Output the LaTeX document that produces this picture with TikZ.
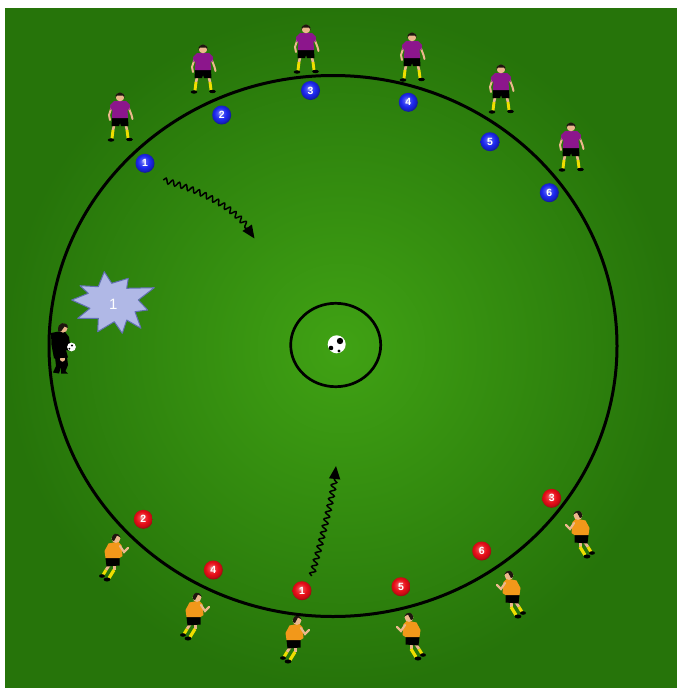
\documentclass[tikz,border=0pt]{standalone}
\usepackage{fontspec}
\setmainfont{Liberation Sans}
\usetikzlibrary{decorations.pathmorphing,arrows.meta}
\definecolor{skin}{RGB}{236,184,140}
\definecolor{shirtP}{RGB}{140,22,140}
\definecolor{shirtO}{RGB}{242,152,26}
\definecolor{sockY}{RGB}{240,222,0}
\definecolor{hairC}{RGB}{30,22,14}
\definecolor{burstF}{RGB}{176,184,230}
\definecolor{burstE}{RGB}{96,112,176}
\definecolor{blueD}{RGB}{28,40,240}
\definecolor{redD}{RGB}{232,14,24}
\definecolor{fieldIn}{RGB}{64,162,20}
\definecolor{fieldOut}{RGB}{38,116,10}
\pgfdeclareradialshading{discB}{\pgfpoint{-5bp}{6bp}}{color(0bp)=(blueD!30!white); color(7bp)=(blueD!80!white); color(16bp)=(blueD); color(23bp)=(blueD!80!black); color(25bp)=(blueD!65!black); color(50bp)=(blueD!65!black)}
\pgfdeclareradialshading{discR}{\pgfpoint{-5bp}{6bp}}{color(0bp)=(redD!30!white); color(7bp)=(redD!80!white); color(16bp)=(redD); color(23bp)=(redD!85!black); color(25bp)=(redD!70!black); color(50bp)=(redD!70!black)}
\tikzset{
  disc/.style={circle, minimum size=19pt, inner sep=0pt, text=white,
    font=\bfseries\fontsize{10.5}{10.5}\selectfont},
  bluedisc/.style={disc, shading=discB},
  reddisc/.style={disc, shading=discR},
  ring/.style={draw=black, line width=3pt},
  run/.style={decorate, line width=1.5pt, draw=black,
    decoration={snake, amplitude=2.6pt, segment length=7pt, post length=11pt},
    -{Triangle[length=13pt,width=11pt]}},
  standing/.pic={
    \draw[skin, line width=2.6pt] (-6,8) -- (-7,12) (6,8) -- (7,12);
    \draw[sockY, line width=2.9pt] (-7,12) -- (-8,20.5) (7,12) -- (8,20);
    \fill[black] (-9,22) ellipse (3.3 and 1.7) (9.5,21.5) ellipse (3.3 and 1.7);
    \fill[black] (-8,0) -- (8,0) -- (8.5,8) -- (1,8) -- (0,5) -- (-1,8) -- (-8.5,8) -- cycle;
    \draw[skin, line width=2pt, line cap=round] (-8,-12) -- (-11,-3) -- (-10,2) (8,-12) -- (11.5,-3) -- (12.5,1);
    \fill[shirtP] (-6,-17) -- (6,-17) -- (10,-13) -- (9.5,-8) -- (7.5,-9) -- (8,0) -- (-8,0) -- (-7.5,-9) -- (-9.5,-8) -- (-10,-13) -- cycle;
    \fill[skin] (0,-21) circle (4.3);
    \fill[hairC] (-4.6,-20) .. controls (-5,-27.5) and (5,-27.5) .. (4.6,-20) -- (3,-22.5) -- (-3,-22.5) -- cycle;
  },
  running/.pic={
    \draw[skin, line width=2.8pt] (-2,6) -- (-6,12);
    \draw[sockY, line width=3pt] (-6,12) -- (-9,17);
    \fill[black] (-10,18) ellipse (3 and 1.8);
    \draw[skin, line width=3pt] (2,6) -- (2,12);
    \draw[sockY, line width=3.2pt] (2,12) -- (-3,20);
    \fill[black] (-5,21.5) ellipse (3.4 and 2);
    \fill[black] (-6.5,0) -- (7.5,-1) -- (7.5,7.5) -- (-5.5,8.5) -- cycle;
    \fill[shirtO] (-3.5,-14.5) -- (6,-16.5) -- (9.5,-13) -- (10.5,-2) -- (7.5,0) -- (-6.5,0) -- (-7.5,-7) -- cycle;
    \draw[skin, line width=2.2pt, line cap=round] (8,-12) -- (12,-6) -- (16,-10);
    \fill[skin] (4,-19.5) circle (4.4);
    \fill[hairC] (0,-18) .. controls (-1,-25.5) and (6,-26.5) .. (8.7,-20.5) -- (5,-22.5) -- (2,-17) -- cycle;
  },
  keeper/.pic={
    \fill[black] (-6,0) -- (6,0) -- (7,8) -- (4.5,14) -- (7,16.5) -- (0,16.5) -- (0,10) -- (-2,16.5) -- (-8,15.5) -- (-5,9) -- cycle;
    \fill[skin] (1.5,2) ellipse (2.6 and 2.6);
    \fill[black] (-10,-24) -- (3,-26.5) -- (8,-20) -- (9,-13) -- (12,-10) -- (10,-6) -- (5,-7) -- (7,0.5) -- (-7,1.5) -- (-9.5,-12) -- cycle;
    \fill[white] (10.5,-10) circle (4.4);
    \fill[black] (11,-11.5) circle (1.2) (8.3,-8.3) circle (1);
    \fill[skin] (2,-29) circle (4.6);
    \fill[hairC] (-3,-26) .. controls (-4.5,-35.5) and (7.5,-36.5) .. (6.8,-29) -- (3.5,-30.5) -- (0,-25.5) -- cycle;
  }
}
\begin{document}
\begin{tikzpicture}[x=1pt,y=-1pt]
\useasboundingbox (0,0) rectangle (677,688);
\fill[white] (0,0) rectangle (677,688);
\shade[inner color=fieldIn, outer color=fieldOut] (5,8) rectangle (677,688);

% field circles
\draw[ring] (333,346) ellipse (284 and 270.5);
\draw[ring, line width=2.7pt] (335.7,345) ellipse (45 and 41.7);

% ball
\node[circle, fill=white, minimum size=18pt, inner sep=0pt] (ball) at (336.7,344.3) {};
\fill[black] (340,341) circle (3.2) (331,348) circle (2.3) (339,351) circle (1.6);

% purple players
\path (120,118) pic {standing};
\path (203,70) pic {standing};
\path (306,50) pic {standing};
\path (412,58) pic {standing};
\path (501,90) pic {standing};
\path (571,148) pic {standing};

% orange players
\path (112,558) pic {running};
\path (193,617) pic {running};
\path (293,640) pic {running};
\path (582,535) pic[xscale=-1] {running};
\path (513,595) pic[xscale=-1] {running};
\path (413,637) pic[xscale=-1] {running};

% goalkeeper
\path (61,357) pic {keeper};

% blue discs
\node[bluedisc] (b1) at (145,163.3) {1};
\node[bluedisc] (b2) at (221.7,115) {2};
\node[bluedisc] (b3) at (310.5,90.5) {3};
\node[bluedisc] (b4) at (408.3,102.3) {4};
\node[bluedisc] (b5) at (490,141.7) {5};
\node[bluedisc] (b6) at (549.3,192.7) {6};

% red discs
\node[reddisc] (r2) at (143.3,519.3) {2};
\node[reddisc] (r4) at (213.3,570) {4};
\node[reddisc] (r1) at (302,590.7) {1};
\node[reddisc] (r5) at (401,586.7) {5};
\node[reddisc] (r6) at (481.7,551) {6};
\node[reddisc] (r3) at (551.7,498.3) {3};

% burst
\fill[burstF, draw=burstE, line width=1pt, line join=round]
  (71.7,300) -- (88.3,293.3) -- (80,285.7) -- (98.3,286.7) -- (104.3,271.7)
  -- (111.7,283.3) -- (128.3,278.3) -- (126.7,288.3) -- (154.3,287.7)
  -- (138.3,300) -- (147.7,310) -- (135,311.7) -- (141,328.3) -- (126.7,320)
  -- (122.3,333.3) -- (114.3,321.7) -- (97.7,331.7) -- (98.3,318.3)
  -- (77.7,318.3) -- (90,308.3) -- cycle;
\node[text=white, font=\fontsize{15}{15}\selectfont] (burstlabel) at (113.3,304.3) {1};

% runs
\coordinate (s1) at (163.3,180);
\coordinate (e1) at (254.5,238.5);
\draw[run] (s1) .. controls (205,192) and (236,208) .. (e1);
\coordinate (s2) at (311.7,576);
\coordinate (e2) at (336,466);
\draw[run] (s2) .. controls (320,545) and (334,495) .. (e2);
\end{tikzpicture}
\end{document}
